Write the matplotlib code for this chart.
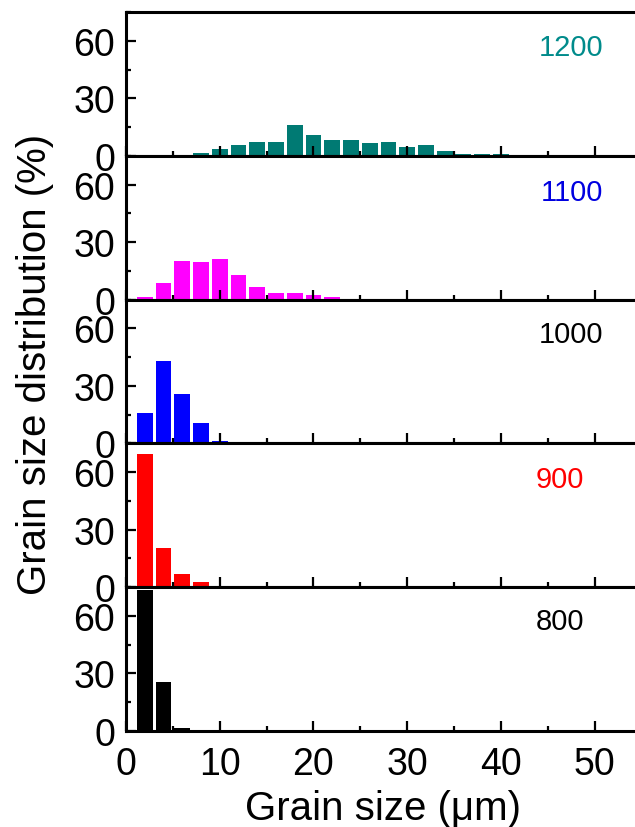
import numpy as np
import matplotlib
matplotlib.use("Agg")
import matplotlib.pyplot as plt
from matplotlib.ticker import MultipleLocator

plt.rcParams['font.family'] = ['Liberation Sans', 'DejaVu Sans']

# bin centres (um) and percentages, top panel first
temps = ["1200", "1100", "1000", "900", "800"]
bar_colors = ["#007A73", "#FF00FF", "#0000FF", "#FF0000", "#000000"]
label_colors = ["#008B8B", "#0000E0", "#000000", "#FF0000", "#000000"]

x_1200 = [8, 10, 12, 14, 16, 18, 20, 22, 24, 26, 28, 30, 32, 34, 36, 38, 40, 42, 50, 54]
y_1200 = [1.4, 3.7, 5.4, 7.0, 7.0, 16.0, 11.0, 8.2, 8.2, 6.7, 7.2, 4.6, 5.4, 2.6, 1.0, 1.0, 1.0, 0.4, 0.4, 0.4]

x_1100 = [2, 4, 6, 8, 10, 12, 14, 16, 18, 20, 22, 24, 26]
y_1100 = [1.2, 8.4, 20.0, 19.6, 21.2, 12.8, 6.8, 3.3, 3.3, 2.3, 1.2, 0.5, 0.5]

x_1000 = [2, 4, 6, 8, 10, 12]
y_1000 = [16.1, 43.0, 25.6, 10.5, 1.1, 0.3]

x_900 = [2, 4, 6, 8, 10]
y_900 = [69.5, 20.7, 6.7, 2.8, 0.4]

x_800 = [2, 4, 6]
y_800 = [73.3, 25.3, 1.4]

xs = [x_1200, x_1100, x_1000, x_900, x_800]
ys = [y_1200, y_1100, y_1000, y_900, y_800]
# label right edge in pixels, baseline in data units
label_pos = [(603, 52.5), (603, 52), (603, 53), (584, 52), (584, 53)]

fig = plt.figure(figsize=(6.35, 8.28), dpi=100)
left, right = 126 / 635.0, 1.0
top, bottom = 1 - 13 / 828.0, 1 - 732 / 828.0
h = (top - bottom) / 5.0

axes = []
for i in range(5):
    ax = fig.add_axes([left, top - (i + 1) * h, right - left, h])
    ax.bar(xs[i], ys[i], width=1.7, color=bar_colors[i], linewidth=0)
    ax.set_xlim(0, 54.3)
    ax.set_ylim(0, 75)
    ax.yaxis.set_major_locator(MultipleLocator(30))
    ax.yaxis.set_minor_locator(MultipleLocator(15))
    ax.xaxis.set_major_locator(MultipleLocator(10))
    ax.xaxis.set_minor_locator(MultipleLocator(5))
    ax.tick_params(which='both', direction='in', width=1.6)
    ax.tick_params(which='major', length=7)
    ax.tick_params(which='minor', length=3.5)
    ax.tick_params(axis='y', labelsize=27, pad=8)
    ax.tick_params(axis='x', labelsize=27, pad=11)
    ax.spines['right'].set_visible(False)
    for s in ['left', 'bottom', 'top']:
        ax.spines[s].set_linewidth(2.2)
    if i < 4:
        ax.tick_params(axis='x', labelbottom=False)
    # panel label (temperature), placed in pixel x / data y
    px, py = label_pos[i]
    ax.text((px - 126) / 9.375, py, temps[i], color=label_colors[i],
            fontsize=21, ha='right', va='baseline')
    axes.append(ax)

fig.text(383 / 635.0, 1 - 820 / 828.0, "Grain size (\u03bcm)", fontsize=29,
         ha='center', va='baseline')
fig.text(35 / 635.0, 1 - 364 / 828.0, "Grain size distribution (%)", fontsize=29,
         ha='center', va='center', rotation=90)

fig.savefig("out.png", dpi=100)
